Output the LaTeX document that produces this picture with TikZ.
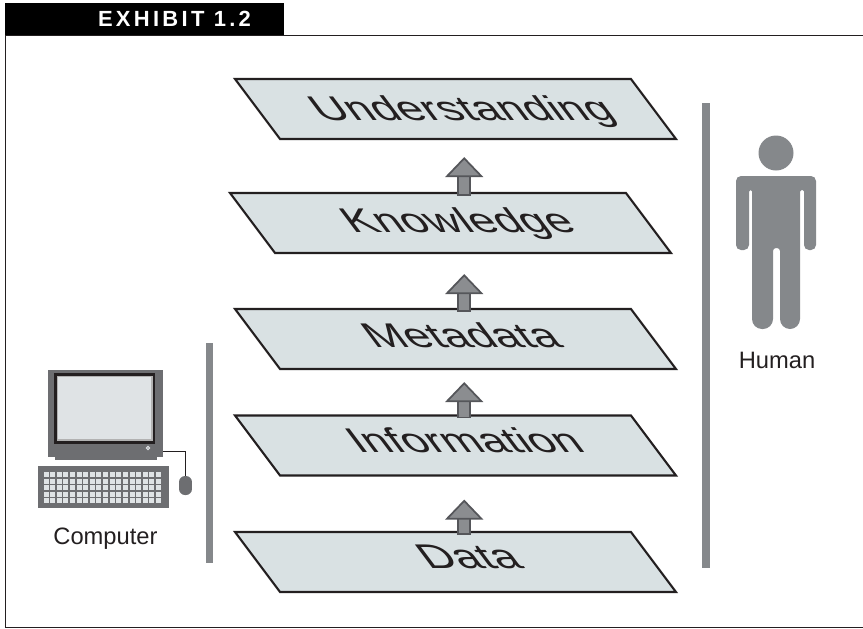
\documentclass[tikz,border=0pt]{standalone}
\usepackage{fontspec}
\setmainfont{Liberation Sans}
\usetikzlibrary{arrows.meta,calc}
\definecolor{planefill}{HTML}{D9E1E3}
\definecolor{planeline}{HTML}{231F20}
\definecolor{bargray}{HTML}{85888B}
\definecolor{arrowfill}{HTML}{8B8D90}
\definecolor{arrowline}{HTML}{55565A}
\definecolor{casegray}{HTML}{6D6E71}
\definecolor{screenfill}{HTML}{DFE3E5}
\tikzset{
	plane/.style={draw=planeline, fill=planefill, line width=0.42mm, inner sep=0, xslant=-0.75, transform shape,
		minimum width=7.92cm, minimum height=1.2cm, text height=0.5cm, text depth=0.1cm, align=center, text=planeline,
		font=\fontsize{26}{26}\selectfont},
	stackarrow/.style={double=arrowfill, draw=arrowline, line width=0.35mm, double distance=0.21cm, line cap=rect,
		-{Triangle[length=0.4cm, width=0.76cm, line width=0.35mm, fill=arrowfill]}},
	caption/.style={font=\fontsize{13.5}{13.5}\selectfont, text=planeline},
}
\newcommand{\planelabel}[3]{\hspace{#1cm}\raisebox{#2cm}{\scalebox{1}[0.75]{#3}}}

\begin{document}
\begin{tikzpicture}[x=0.02cm, y=-0.02cm]
	\useasboundingbox (0, 0) rectangle (863, 629);

	%%%%% FRAME %%%%%
	\draw[line width=0.3mm, color=planeline] (863, 35.5) -- (5.5, 35.5) -- (5.5, 627.5) -- (863, 627.5);
	\node[fill=black, text=white, minimum width=5.58cm, minimum height=0.64cm, inner sep=0] (exhibit) at (144.5, 19)
		{\hspace{1.2cm}\addfontfeatures{LetterSpace=15}\fontsize{12.5}{12.5}\selectfont\bfseries EXHIBIT 1.2};

	%%%%% PLANES %%%%%
	\node[shift={(455.5, 109)}, plane] (understanding) {\planelabel{0.25}{-0.02}{Understanding}};
	\node[shift={(450.5, 223)}, plane] (knowledge) {\planelabel{0.35}{0.02}{Knowledge}};
	\node[shift={(455.5, 339)}, plane] (metadata) {\planelabel{0.32}{0.04}{Metadata}};
	\node[shift={(455.5, 445.5)}, plane] (information) {\planelabel{0.49}{0.06}{Information}};
	\node[shift={(455.5, 562)}, plane] (data) {\planelabel{0.68}{0.08}{Data}};

	%%%%% ARROWS %%%%%
	\foreach \lower/\upper/\xlow/\gap in {
		data/information/0.64/23,
		information/metadata/0.64/12,
		metadata/knowledge/0.64/20,
		knowledge/understanding/0.74/17} {
		\coordinate (foot) at ([xshift=\xlow cm, yshift=0.06cm]\lower.north);
		\path (foot |- \upper.south) ++(0, \gap) coordinate (head);
		\draw[stackarrow] (foot) -- (head);
	}

	%%%%% BARS %%%%%
	\fill[bargray] (205.5, 343) rectangle (213, 563);
	\fill[bargray] (702, 103) rectangle (709.5, 568);

	%%%%% HUMAN %%%%%
	\fill[bargray] (776, 153) circle (17.5);
	\fill[bargray] [rounded corners=0.1cm] (736, 176) -- (816, 176) -- (816, 250) -- (804, 250)
		[rounded corners=0.03cm] -- (804, 190) -- (800, 190) [rounded corners=0.2cm] -- (800, 329) -- (780, 329)
		[rounded corners=0.06cm] -- (780, 248) -- (773, 248) [rounded corners=0.2cm] -- (773, 329) -- (752, 329)
		[rounded corners=0.03cm] -- (752, 190) -- (749, 190) [rounded corners=0.1cm] -- (749, 250) -- (736, 250) -- cycle;
	\node[caption] (human) at (777, 360) {Human};

	%%%%% COMPUTER %%%%%
	\fill[casegray] (55, 455) rectangle (157, 459.5);
	\node[fill=casegray, minimum width=2.3cm, minimum height=1.74cm, inner sep=0] (monitor) at (105.5, 413.5) {};
	\draw[fill=black!60!casegray, line width=0.2mm, color=planeline] (54.5, 373.5) rectangle (154, 443);
	\fill[color=black!30] (56.5, 375.5) rectangle (152.5, 441);
	\fill[screenfill] (58, 377) rectangle (151, 439);
	\draw[color=screenfill, line width=0.2mm, fill=casegray] (148, 448) circle (1.7);

	\node[fill=casegray, minimum width=0.26cm, minimum height=0.38cm, inner sep=0, rounded corners=0.12cm] (mouse) at (185.5, 485.5) {};
	\draw[line width=0.2mm, color=planeline] ([yshift=-0.77cm]monitor.east) -| (mouse.north);

	\fill[casegray] (38, 466) rectangle (169, 508);
	\foreach \col in {0,...,17} {
		\foreach \row in {0,...,4} {
			\fill[screenfill] ({43.5 + 6.62*\col}, {472 + 6.6*\row}) rectangle ++(5, 5);
		}
	}
	\node[caption] (computer) at (105.5, 539) {Computer};
\end{tikzpicture}
\end{document}
